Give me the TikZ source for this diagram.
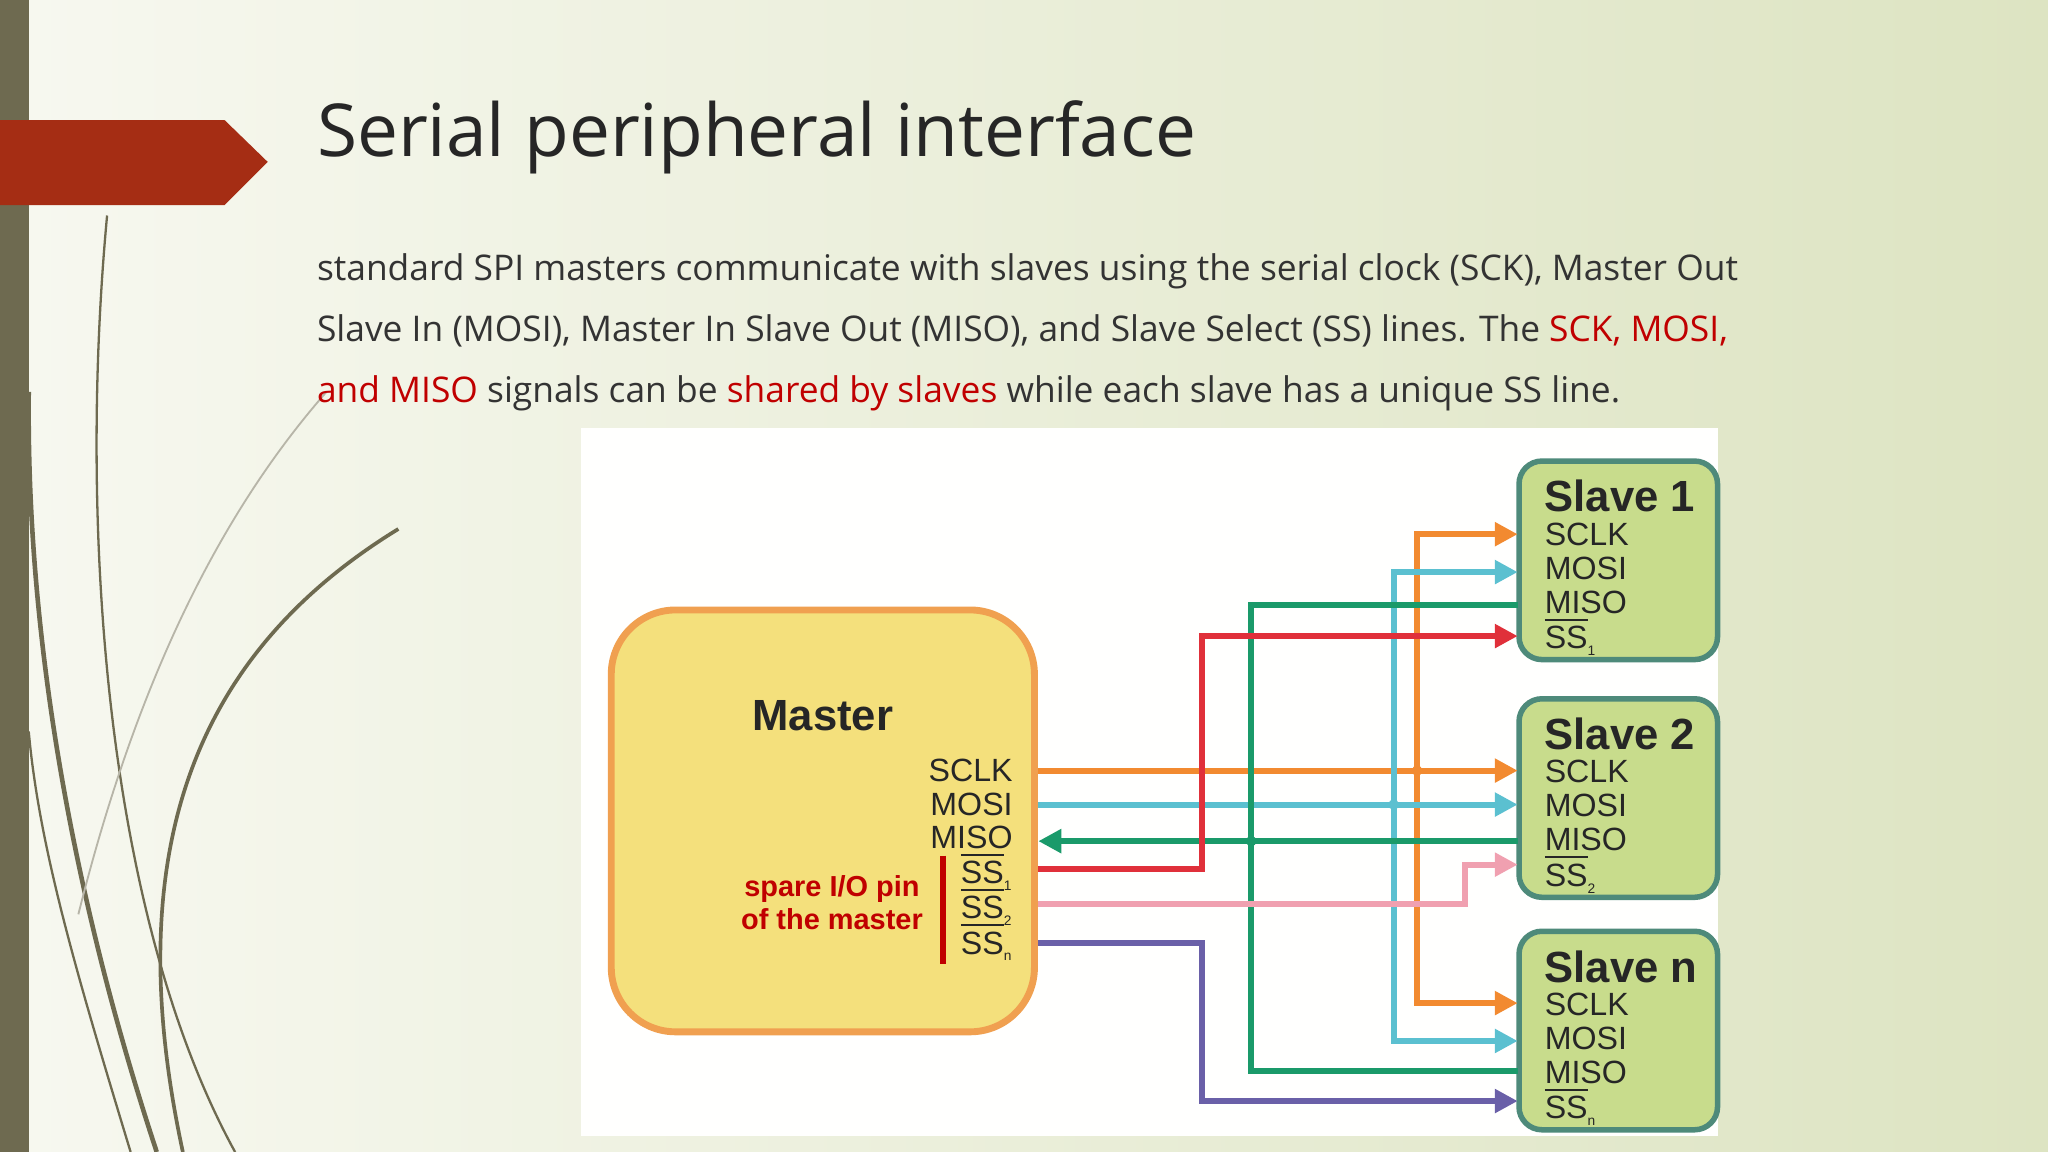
\documentclass[tikz,border=0pt]{standalone}
\usepackage{fontspec}
\setmainfont{Open Sans}
\newfontfamily\dfont{Liberation Sans}
\usetikzlibrary{arrows.meta}
\definecolor{bgl}{HTML}{F7F8F0}
\definecolor{bgr}{HTML}{DDE4C2}
\definecolor{olive}{HTML}{6E6A50}
\definecolor{banner}{HTML}{A52D14}
\definecolor{txt}{HTML}{333333}
\definecolor{hl}{HTML}{C00000}
\definecolor{mfill}{HTML}{F4E07C}
\definecolor{mdraw}{HTML}{F0A050}
\definecolor{sfill}{HTML}{C8DC8C}
\definecolor{sdraw}{HTML}{4E8A7A}
\definecolor{cor}{HTML}{F28A30}
\definecolor{ccy}{HTML}{5BC0D0}
\definecolor{cgr}{HTML}{1A9A6A}
\definecolor{crd}{HTML}{E0303A}
\definecolor{cpk}{HTML}{F0A0B0}
\definecolor{cpu}{HTML}{6A60A8}
\newcommand{\ssbar}[1]{$\overline{\mbox{SS}}$\raisebox{-0.4ex}{\fontsize{3}{3}\selectfont #1}}
\tikzset{
  lbl/.style={font=\dfont\fontsize{7}{8}\selectfont, inner sep=0pt, text=black!85},
  sttl/.style={font=\dfont\bfseries\fontsize{9.5}{11}\selectfont, inner sep=0pt, text=black!85},
  slavebox/.style={draw=sdraw, line width=1.2pt, fill=sfill, rounded corners=5pt},
  wire/.style={line width=1.3pt, -{Triangle[length=5pt,width=5pt]}},
  wirep/.style={line width=1.3pt},
  grass/.style={olive, line width=0.5pt}
}
\begin{document}
\begin{tikzpicture}[x=0.01cm,y=-0.01cm]
\useasboundingbox (0,0) rectangle (1568,882);
\shade[left color=bgl, right color=bgr] (0,0) rectangle (1568,882);
\fill[olive] (0,0) rectangle (22,882);
% grass
\draw[grass] (180,882) .. controls (80,700) and (60,400) .. (82,165);
\draw[grass, line width=0.8pt] (140,882) .. controls (90,650) and (150,500) .. (305,405);
\draw[grass, line width=1pt] (120,882) .. controls (60,700) and (20,500) .. (22,300);
\draw[grass] (100,882) .. controls (60,750) and (30,650) .. (22,560);
\draw[grass, line width=0.4pt, olive!50] (60,700) .. controls (110,500) and (180,380) .. (250,300);
\fill[banner] (0,92) -- (172,92) -- (205,124) -- (172,157) -- (0,157) -- cycle;
% title
\node[anchor=base west, inner sep=0pt, text=black!85, font=\fontsize{15.9}{18}\selectfont] (title) at (242,120) {Serial peripheral interface};
\node[anchor=base west, inner sep=0pt, text=txt, font=\fontsize{7.7}{13.3}\selectfont, align=left] (body) at (242,308)
{standard SPI masters communicate with slaves using the serial clock (SCK), Master Out\\
Slave In (MOSI), Master In Slave Out (MISO), and Slave Select (SS) lines. The \textcolor{hl}{SCK, MOSI,}\\
\textcolor{hl}{and MISO} signals can be \textcolor{hl}{shared by slaves} while each slave has a unique SS line.};
% panel
\fill[white!96!bgl] (445,328) rectangle (1315,870);
% master
\draw[draw=mdraw, line width=1.5pt, fill=mfill, rounded corners=14pt] (468,467) rectangle (792,790);
\node[sttl, font=\dfont\bfseries\fontsize{9.5}{11}\selectfont] (mt) at (630,548) {Master};
\node[lbl, anchor=east] (msclk) at (776,590) {SCLK};
\node[lbl, anchor=east] (mmosi) at (776,616) {MOSI};
\node[lbl, anchor=east] (mmiso) at (776,641) {MISO};
\node[lbl, anchor=west] (mss1) at (735,667) {\ssbar{1}};
\node[lbl, anchor=west] (mss2) at (735,694) {\ssbar{2}};
\node[lbl, anchor=west] (mssn) at (735,721) {\ssbar{n}};
\draw[hl, line width=1.2pt] (722,655) coordinate (rt) -- (722,738) coordinate (rb);
\node[font=\dfont\bfseries\fontsize{6.3}{7.2}\selectfont, text=hl, align=center, inner sep=0pt] (spare) at (637,691) {spare I/O pin\\of the master};
% slaves
\foreach \n/\t/\y/\s in {1/Slave 1/353/1, 2/Slave 2/535/2, 3/Slave n/713/n}{
  \draw[slavebox] (1163,\y) rectangle (1315,\y+152);
  \node[sttl, anchor=west] (st\n) at (1182,\y+27) {\t};
  \node[lbl, anchor=west] (sa\n) at (1182,\y+56) {SCLK};
  \node[lbl, anchor=west] (sb\n) at (1182,\y+82) {MOSI};
  \node[lbl, anchor=west] (sc\n) at (1182,\y+108) {MISO};
  \node[lbl, anchor=west] (sd\n) at (1182,\y+134) {\ssbar{\s}};
}
\coordinate (in1a) at (1162,409); \coordinate (in1b) at (1162,438); \coordinate (in1c) at (1162,463); \coordinate (in1d) at (1162,487);
\coordinate (in2a) at (1162,590); \coordinate (in2b) at (1162,616); \coordinate (in2c) at (1162,644); \coordinate (in2d) at (1162,662);
\coordinate (in3a) at (1162,768); \coordinate (in3b) at (1162,797); \coordinate (in3c) at (1162,820); \coordinate (in3d) at (1162,843);
\coordinate (o1) at (795,590); \coordinate (o2) at (795,616); \coordinate (o3) at (795,644);
\coordinate (o4) at (795,665); \coordinate (o5) at (795,692); \coordinate (o6) at (795,722);
% SCLK
\draw[wire, cor] (o1) -- (in2a);
\draw[wire, cor] (1085,590) -- (1085,409) -- (in1a);
\draw[wire, cor] (1085,590) -- (1085,768) -- (in3a);
\fill[cor] (1085,590) circle (4);
% MOSI
\draw[wire, ccy] (o2) -- (in2b);
\draw[wire, ccy] (1067,616) -- (1067,438) -- (in1b);
\draw[wire, ccy] (1067,616) -- (1067,797) -- (in3b);
\fill[ccy] (1067,616) circle (4);
% MISO
\draw[wire, cgr] (in2c) -- (o3);
\draw[wirep, cgr] (in1c) -- (958,463) -- (958,820) -- (in3c);
\fill[cgr] (958,644) circle (4);
% SS
\draw[wire, crd] (o4) -- (920,665) -- (920,487) -- (in1d);
\draw[wire, cpk] (o5) -- (1122,692) -- (1122,662) -- (in2d);
\draw[wire, cpu] (o6) -- (920,722) -- (920,843) -- (in3d);
\end{tikzpicture}
\end{document}
